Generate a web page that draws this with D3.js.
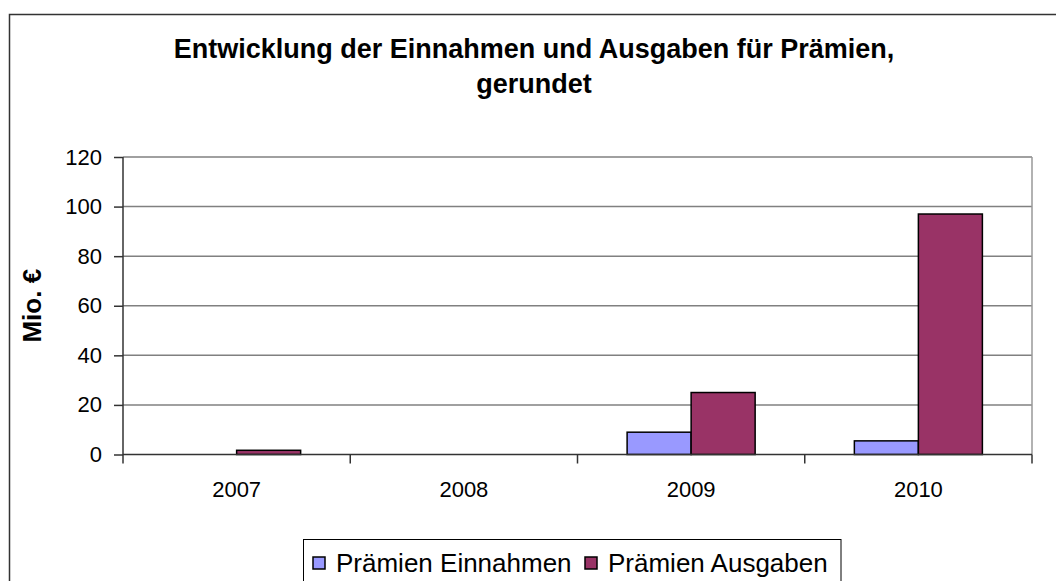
<!DOCTYPE html>
<html>
<head>
<meta charset="utf-8">
<script src="https://cdn.jsdelivr.net/npm/d3@7"></script>
<style>
  html, body { margin: 0; padding: 0; background: #fff; }
  svg { display: block; font-family: "Liberation Sans", Arial, sans-serif; }
</style>
</head>
<body>
<div id="chart"></div>
<script>
const YEARS     = ["2007", "2008", "2009", "2010"];
const SERIES    = ["Prämien Einnahmen", "Prämien Ausgaben"];
const EINNAHMEN = [0, 0, 9, 5.5];
const AUSGABEN  = [1.7, 0, 25, 97];
const Y_TICKS   = [0, 20, 40, 60, 80, 100, 120];
const COLORS    = ["#9999FF", "#993366"];

const W = 1056, H = 581;
const PLOT = { left: 123, right: 1032, top: 157, bottom: 454.5 };

const svg = d3.select("#chart").append("svg")
  .attr("width", W).attr("height", H);

// outer chart frame (runs past the right and bottom edge)
svg.append("rect")
  .attr("x", 9.5).attr("y", 14.5)
  .attr("width", W + 20).attr("height", H + 20)
  .attr("fill", "#fff")
  .attr("stroke", "#333").attr("stroke-width", 1.5);

// title
const title = svg.append("text")
  .attr("text-anchor", "middle")
  .style("font-weight", "bold")
  .style("font-size", "27px")
  .attr("fill", "#000");
title.append("tspan").attr("x", 534).attr("y", 58)
  .text("Entwicklung der Einnahmen und Ausgaben für Prämien,");
title.append("tspan").attr("x", 534).attr("y", 93)
  .text("gerundet");

const x0 = d3.scaleBand().domain(YEARS).range([PLOT.left, PLOT.right]).padding(0);
const x1 = d3.scaleBand().domain(SERIES).range([0, x0.bandwidth()])
  .paddingInner(0).paddingOuter(0.775);
const y = d3.scaleLinear().domain([0, 120]).range([PLOT.bottom, PLOT.top]);

// gridlines
svg.append("g").selectAll("line")
  .data(Y_TICKS.filter(d => d > 0))
  .join("line")
  .attr("x1", PLOT.left).attr("x2", PLOT.right)
  .attr("y1", d => y(d)).attr("y2", d => y(d))
  .attr("stroke", "#808080").attr("stroke-width", 1.5);

// right plot border
svg.append("line")
  .attr("x1", PLOT.right).attr("x2", PLOT.right)
  .attr("y1", PLOT.top).attr("y2", PLOT.bottom)
  .attr("stroke", "#999").attr("stroke-width", 1.5);

// bars
const rows = YEARS.map((yr, i) => ({ year: yr, values: [EINNAHMEN[i], AUSGABEN[i]] }));
svg.append("g").selectAll("g")
  .data(rows)
  .join("g")
  .attr("transform", d => `translate(${x0(d.year)},0)`)
  .selectAll("rect")
  .data(d => d.values.map((v, si) => ({ key: SERIES[si], v, si })).filter(d => d.v > 0))
  .join("rect")
  .attr("x", d => x1(d.key))
  .attr("width", x1.bandwidth())
  .attr("y", d => y(d.v))
  .attr("height", d => y(0) - y(d.v))
  .attr("fill", d => COLORS[d.si])
  .attr("stroke", "#000").attr("stroke-width", 1.5);

// y axis
const yAxis = svg.append("g")
  .attr("transform", `translate(${PLOT.left},0)`)
  .call(d3.axisLeft(y).tickValues(Y_TICKS).tickSize(9).tickPadding(12));
yAxis.select(".domain").remove();
yAxis.append("line")
  .attr("x1", 0).attr("x2", 0).attr("y1", PLOT.top).attr("y2", PLOT.bottom + 9)
  .attr("stroke", "#333").attr("stroke-width", 1.5);
yAxis.selectAll(".tick line").attr("stroke", "#333").attr("stroke-width", 1.5);
yAxis.selectAll(".tick text")
  .style("font-size", "22px").style("font-family", "Liberation Sans, Arial, sans-serif")
  .attr("fill", "#000");

// x axis
const xAxis = svg.append("g")
  .attr("transform", `translate(0,${PLOT.bottom})`)
  .call(d3.axisBottom(x0).tickSize(0).tickPadding(27));
xAxis.select(".domain").remove();
xAxis.append("line")
  .attr("x1", PLOT.left).attr("x2", PLOT.right)
  .attr("stroke", "#333").attr("stroke-width", 1.5);
xAxis.selectAll(".tick text")
  .style("font-size", "22px").style("font-family", "Liberation Sans, Arial, sans-serif")
  .attr("fill", "#000");
xAxis.append("g").selectAll("line")
  .data(YEARS.slice(1).map(d => x0(d)).concat([PLOT.right]))
  .join("line")
  .attr("x1", d => d).attr("x2", d => d)
  .attr("y1", 0).attr("y2", 9)
  .attr("stroke", "#333").attr("stroke-width", 1.5);

// y axis title
svg.append("text")
  .attr("transform", `translate(41,${(PLOT.top + PLOT.bottom) / 2}) rotate(-90)`)
  .attr("text-anchor", "middle")
  .style("font-weight", "bold").style("font-size", "26px")
  .text("Mio. €");

// legend
const lg = svg.append("g");
lg.append("rect")
  .attr("x", 303.5).attr("y", 539.5)
  .attr("width", 537.5).attr("height", 60)
  .attr("fill", "#fff").attr("stroke", "#000").attr("stroke-width", 1);
const legendX = [313, 585];
SERIES.forEach((s, i) => {
  lg.append("rect")
    .attr("x", legendX[i]).attr("y", 557)
    .attr("width", 12).attr("height", 12)
    .attr("fill", COLORS[i]).attr("stroke", "#000").attr("stroke-width", 1.5);
  lg.append("text")
    .attr("x", legendX[i] + 23).attr("y", 572)
    .style("font-size", "26px")
    .text(s);
});
</script>
</body>
</html>
